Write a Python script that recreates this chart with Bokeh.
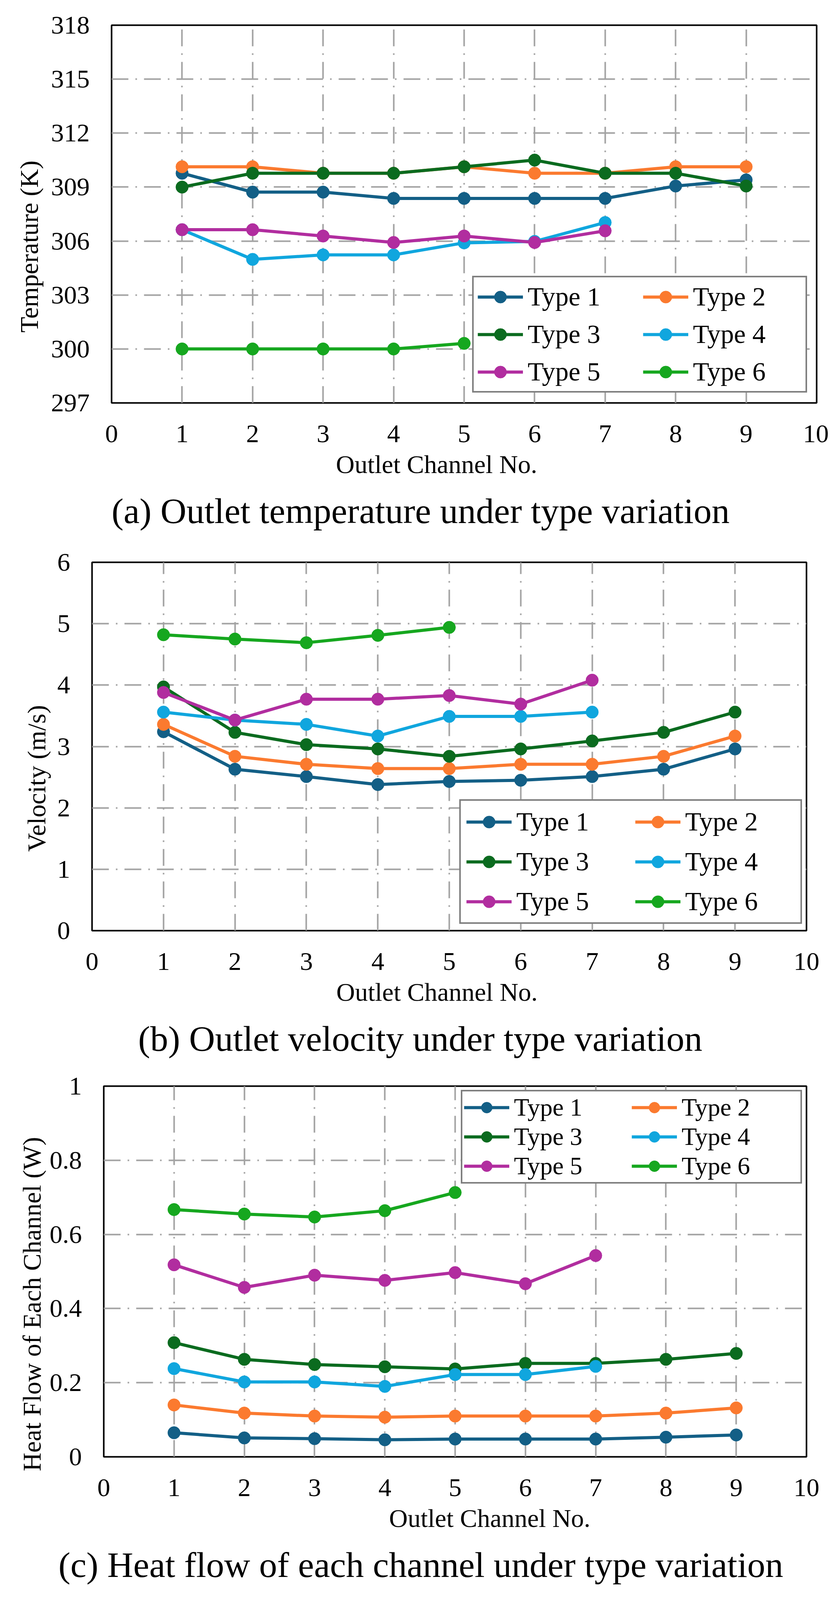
# Outlet temperature / velocity / heat flow per channel for six channel types.
from bokeh.plotting import figure
from bokeh.layouts import column
from bokeh.models import Range1d, FixedTicker, Legend, LegendItem, Title
from bokeh.embed import file_html
from bokeh.resources import INLINE

# ---- data ----
channels = [1, 2, 3, 4, 5, 6, 7, 8, 9]
x_ticks = [0, 1, 2, 3, 4, 5, 6, 7, 8, 9, 10]
type_names = ["Type 1", "Type 2", "Type 3", "Type 4", "Type 5", "Type 6"]

temp_type1 = [309.77, 308.72, 308.72, 308.37, 308.37, 308.37, 308.37, 309.06, 309.40]
temp_type2 = [310.13, 310.13, 309.77, 309.77, 310.13, 309.77, 309.77, 310.13, 310.13]
temp_type3 = [309.00, 309.77, 309.77, 309.77, 310.13, 310.50, 309.77, 309.77, 309.06]
temp_type4 = [306.63, 304.98, 305.23, 305.23, 305.90, 305.98, 307.03]
temp_type5 = [306.63, 306.63, 306.28, 305.92, 306.28, 305.92, 306.57]
temp_type6 = [300.00, 300.00, 300.00, 300.00, 300.31]
temp_ticks = [297, 300, 303, 306, 309, 312, 315, 318]
temp_labels = ["297", "300", "303", "306", "309", "312", "315", "318"]

vel_type1 = [3.24, 2.63, 2.51, 2.38, 2.43, 2.45, 2.51, 2.63, 2.96]
vel_type2 = [3.36, 2.84, 2.71, 2.64, 2.64, 2.71, 2.71, 2.84, 3.17]
vel_type3 = [3.97, 3.23, 3.03, 2.96, 2.84, 2.96, 3.09, 3.23, 3.56]
vel_type4 = [3.56, 3.43, 3.36, 3.17, 3.49, 3.49, 3.56]
vel_type5 = [3.88, 3.43, 3.77, 3.77, 3.83, 3.69, 4.08]
vel_type6 = [4.82, 4.75, 4.69, 4.81, 4.94]
vel_ticks = [0, 1, 2, 3, 4, 5, 6]
vel_labels = ["0", "1", "2", "3", "4", "5", "6"]

heat_type1 = [0.065, 0.051, 0.049, 0.046, 0.048, 0.048, 0.048, 0.053, 0.059]
heat_type2 = [0.140, 0.118, 0.110, 0.107, 0.110, 0.110, 0.110, 0.118, 0.132]
heat_type3 = [0.308, 0.263, 0.249, 0.243, 0.237, 0.252, 0.252, 0.263, 0.279]
heat_type4 = [0.238, 0.202, 0.202, 0.190, 0.222, 0.222, 0.244]
heat_type5 = [0.518, 0.457, 0.490, 0.476, 0.497, 0.467, 0.543]
heat_type6 = [0.667, 0.655, 0.647, 0.664, 0.713]
heat_ticks = [0, 0.2, 0.4, 0.6, 0.8, 1]
heat_labels = ["0", "0.2", "0.4", "0.6", "0.8", "1"]

captions = ["(a) Outlet temperature under type variation",
            "(b) Outlet velocity under type variation",
            "(c) Heat flow of each channel under type variation"]

colors = ["#135f86", "#fb7a2f", "#0b6b1f", "#10a6de", "#b12d9f", "#16a71f"]

FONT = "Liberation Serif"
FIG_W = 2120


def make_panel(series, y_lo, y_hi, y_ticks, y_labels, y_title, caption, lay):
    p = figure(width=FIG_W, height=lay["height"],
               x_range=Range1d(0, 10), y_range=Range1d(y_lo, y_hi),
               output_backend="svg", toolbar_location=None, title_location=None,
               frame_align=False,
               min_border_left=lay["left"], min_border_right=lay["right"],
               min_border_top=lay["top"], min_border_bottom=lay["bottom"])
    p.outline_line_color = "black"
    p.outline_line_width = 4

    p.xaxis.ticker = FixedTicker(ticks=x_ticks)
    p.yaxis.ticker = FixedTicker(ticks=y_ticks)
    p.yaxis.major_label_overrides = dict(zip(y_ticks, y_labels))
    for ax in (p.xaxis[0], p.yaxis[0]):
        ax.axis_line_color = None
        ax.major_tick_line_color = None
        ax.minor_tick_line_color = None
        ax.major_tick_in = 0
        ax.major_tick_out = 0
        ax.major_label_text_font = FONT
        ax.major_label_text_font_size = "66px"
        ax.major_label_text_color = "black"
    p.xaxis.major_label_standoff = 57
    p.yaxis.major_label_standoff = 56

    p.grid.grid_line_color = "#a3a3a3"
    p.grid.grid_line_width = 4
    p.grid.grid_line_dash = "43 18 4 18"

    items = []
    for name, vals, col in zip(type_names, series, colors):
        xs = channels[:len(vals)]
        ln = p.line(xs, vals, line_color=col, line_width=8)
        sc = p.scatter(xs, vals, size=32, fill_color=col, line_color=col)
        items.append(LegendItem(label=name, renderers=[ln, sc]))
    # legend fills column by column: order so rows read Type 1 | Type 2, ...
    items = items[0::2] + items[1::2]

    leg = Legend(items=items, location=lay["leg_loc"], ncols=2,
                 label_text_font=FONT, label_text_font_size=lay["leg_font"],
                 label_text_color="black",
                 glyph_width=116, glyph_height=lay["glyph_h"], label_height=lay["glyph_h"],
                 label_width=lay["label_w"], label_standoff=12,
                 spacing=lay["spacing"], padding=lay["padding"], margin=0,
                 border_line_color="black", border_line_width=4,
                 background_fill_alpha=1.0)
    p.add_layout(leg)

    p.add_layout(Title(text="Outlet Channel No.", align="left", offset=lay["xt_off"],
                       text_font=FONT, text_font_size="66px", text_font_style="normal",
                       text_color="black", standoff=lay["xt_standoff"]), "below")
    # caption sits under the axis title
    p.add_layout(Title(text=caption, align="left", offset=lay["cap_off"],
                       text_font=FONT, text_font_size="92px", text_font_style="normal",
                       text_color="black", standoff=lay["cap_standoff"]), "below")
    p.add_layout(Title(text=y_title, align="left", offset=lay["yt_off"],
                       text_font=FONT, text_font_size="66px", text_font_style="normal",
                       text_color="black", standoff=lay["yt_standoff"]), "left")
    return p


lay_a = dict(height=1397, left=285, right=31, top=64, bottom=366,
             leg_loc=(923, 26), leg_font="68px", glyph_h=78, label_w=278, spacing=17, padding=10,
             xt_off=574, xt_standoff=30, yt_off=180, yt_standoff=33,
             cap_off=0, cap_standoff=30)
lay_b = dict(height=1345, left=235, right=57, top=42, bottom=360,
             leg_loc=(940, 17), leg_font="68px", glyph_h=78, label_w=281, spacing=23, padding=14,
             xt_off=625, xt_standoff=30, yt_off=202, yt_standoff=28,
             cap_off=118, cap_standoff=30)
lay_c = dict(height=1340, left=265, right=57, top=38, bottom=353,
             leg_loc=(914, 699), leg_font="64px", glyph_h=70, label_w=300, spacing=1, padding=4,
             xt_off=730, xt_standoff=30, yt_off=-37, yt_standoff=12,
             cap_off=-116, cap_standoff=30)

pa = make_panel([temp_type1, temp_type2, temp_type3, temp_type4, temp_type5, temp_type6],
                297, 318, temp_ticks, temp_labels, "Temperature (K)", captions[0], lay_a)
pb = make_panel([vel_type1, vel_type2, vel_type3, vel_type4, vel_type5, vel_type6],
                0, 6, vel_ticks, vel_labels, "Velocity (m/s)", captions[1], lay_b)
pc = make_panel([heat_type1, heat_type2, heat_type3, heat_type4, heat_type5, heat_type6],
                0, 1, heat_ticks, heat_labels, "Heat Flow of Each Channel (W)", captions[2], lay_c)

p = column(pa, pb, pc)
open("out.html", "w").write(file_html(p, INLINE))
